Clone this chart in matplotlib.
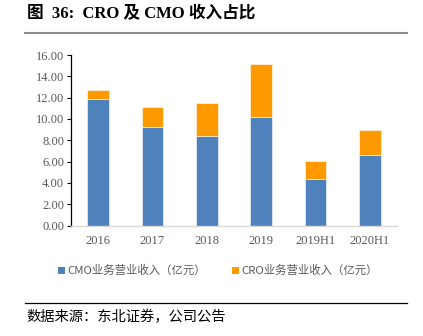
import matplotlib
matplotlib.use("Agg")
import matplotlib.pyplot as plt
from matplotlib.lines import Line2D
from matplotlib.patches import Patch
import numpy as np

categories = ["2016", "2017", "2018", "2019", "2019H1", "2020H1"]
cmo = [11.86, 9.28, 8.43, 10.22, 4.33, 6.62]
total = [12.67, 11.13, 11.45, 15.18, 6.02, 8.97]
cro = [t - c for t, c in zip(total, cmo)]
yticks = [0, 2, 4, 6, 8, 10, 12, 14, 16]

BLUE = "#4F81BD"
ORANGE = "#FF9900"
GRAY = "#595959"
SERIF = ["Liberation Serif", "Noto Sans CJK SC"]
CJK = ["Noto Sans CJK SC", "DejaVu Sans"]

fig = plt.figure(figsize=(4.23, 3.36), dpi=100)
ax = fig.add_axes([71/423, 1-225.5/336, (397-71)/423, (225.5-55)/336])

x = np.arange(len(categories))
ax.bar(x, cmo, width=0.4, color=BLUE, edgecolor="white", linewidth=0.4, zorder=2)
ax.bar(x, cro, bottom=cmo, width=0.4, color=ORANGE, edgecolor="white", linewidth=0.4, zorder=2)

ax.set_xlim(-0.5, len(categories) - 0.5)
ax.set_ylim(0, 16)
ax.set_yticks(yticks)
ax.set_yticklabels([f"{v:.2f}" for v in yticks], fontfamily=SERIF, fontsize=9, color=GRAY)
ax.set_xticks(x)
ax.set_xticklabels(categories, fontfamily=SERIF, fontsize=9, color=GRAY)
ax.tick_params(axis="x", length=0, pad=7)
ax.tick_params(axis="y", direction="out", length=3, width=0.8, color="black", pad=2)
for s in ["top", "right"]:
    ax.spines[s].set_visible(False)
ax.spines["left"].set_color("black")
ax.spines["left"].set_linewidth(0.9)
ax.spines["bottom"].set_color("#D9D9D9")
ax.spines["bottom"].set_linewidth(1.0)

# Title
fig.text(27/423, 1-14/336, "图  36:  CRO 及 CMO 收入占比", fontfamily=["Liberation Serif", "Noto Sans CJK SC"],
         fontsize=12, fontweight="bold", va="center", ha="left", color="black")
fig.add_artist(Line2D([25/423, 407/423], [1-33/336, 1-33/336], color="#8C8C8C", linewidth=1.5))

# Legend
handles = [Patch(facecolor=BLUE, edgecolor="none"), Patch(facecolor=ORANGE, edgecolor="none")]
labels = ["CMO业务营业收入（亿元）", "CRO业务营业收入（亿元）"]
leg = fig.legend(handles, labels, loc="center", bbox_to_anchor=(0.515, 1-270.5/336), ncol=2,
                 frameon=False, prop={"family": CJK, "size": 8.2}, handlelength=0.6, handleheight=0.6,
                 handletextpad=0.2, columnspacing=2.3, labelcolor=GRAY)

# Source line
fig.add_artist(Line2D([25/423, 407/423], [1-303/336, 1-303/336], color="black", linewidth=0.9))
fig.text(26/423, 1-317/336, "数据来源：东北证券，公司公告", fontfamily=CJK, fontsize=10.3,
         va="center", ha="left", color="black")

fig.savefig("out.png", dpi=100)
